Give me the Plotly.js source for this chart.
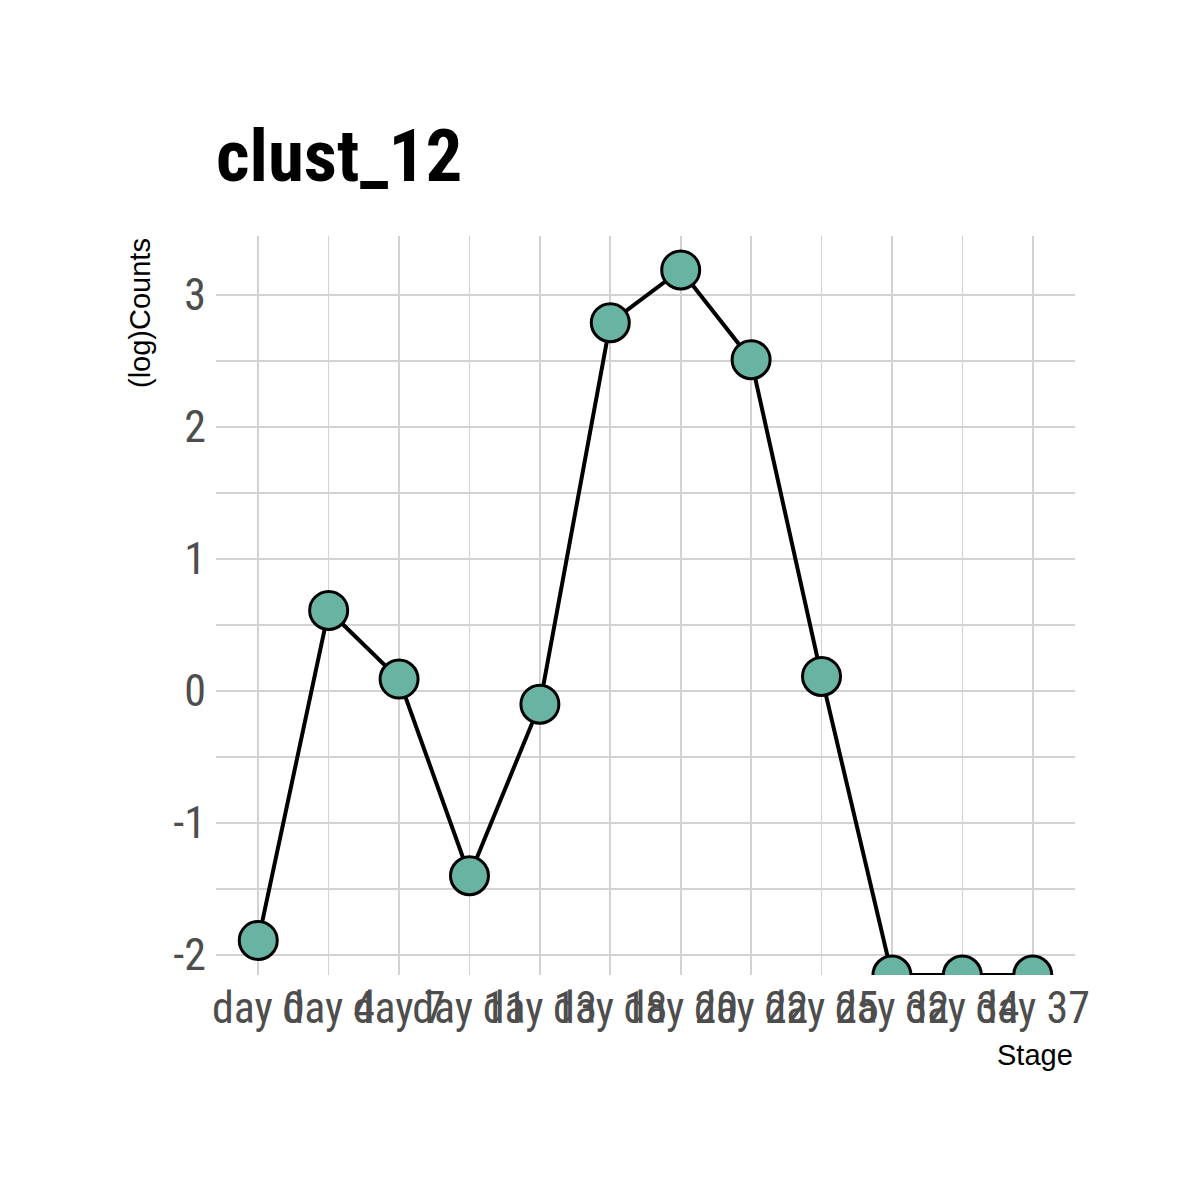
<!DOCTYPE html>
<html>
<head>
<meta charset="utf-8">
<script src="https://cdn.plot.ly/plotly-3.0.1.min.js"></script>
<style>html,body{margin:0;padding:0;background:#fff;}#chart{width:1200px;height:1200px;}</style>
</head>
<body>
<div id="chart"></div>
<script>
// Stage categories (x axis)
var stages = ["day 0","day 4","day 7","day 11","day 13","day 18","day 20","day 22","day 25","day 32","day 34","day 37"];
// (log)Counts; last three are -Inf in the source, drawn at the lower panel edge
var logCounts = [-1.89, 0.61, 0.09, -1.40, -0.10, 2.79, 3.19, 2.51, 0.11, -2.152, -2.152, -2.152];
var yTicks = [-2, -1, 0, 1, 2, 3];
var chartTitle = "clust_12";
var xTitle = "Stage";
var yTitle = "(log)Counts";

var narrow = "Liberation Sans Narrow, Arial Narrow, Roboto Condensed, Liberation Sans, Arial, sans-serif";
var regular = "Liberation Sans, Arial, sans-serif";
var grid = "#d2d2d2";

var trace = {
  x: stages,
  y: logCounts,
  type: "scatter",
  mode: "lines+markers",
  cliponaxis: true,
  line: {color: "#000000", width: 4},
  marker: {size: 38, color: "#69b3a2", line: {color: "#000000", width: 3}},
  hoverinfo: "x+y"
};

var layout = {
  width: 1200,
  height: 1200,
  paper_bgcolor: "#ffffff",
  plot_bgcolor: "#ffffff",
  showlegend: false,
  margin: {l: 216, r: 125, t: 236, b: 225, pad: 0},
  title: {
    text: "<b>" + chartTitle + "</b>",
    font: {family: narrow, size: 73, color: "#000000"},
    xref: "paper", x: 0, xanchor: "left",
    yref: "container", y: 1 - 155/1200, yanchor: "middle"
  },
  xaxis: {
    type: "category",
    range: [-0.6, 11.6],
    showgrid: true, gridcolor: grid, gridwidth: 1.6,
    zeroline: false, showline: false, ticks: "",
    tickangle: 0,
    ticklabelstandoff: 3,
    tickfont: {family: narrow, size: 44, color: "#4d4d4d"},
    fixedrange: true
  },
  yaxis: {
    range: [-2.152, 3.447],
    tickvals: yTicks,
    ticktext: yTicks.map(String),
    showgrid: true, gridcolor: grid, gridwidth: 1.6,
    minor: {dtick: 0.5, tick0: 0, showgrid: true, gridcolor: grid, gridwidth: 1.6},
    zeroline: false, showline: false, ticks: "",
    ticklabelstandoff: 9,
    tickfont: {family: narrow, size: 44, color: "#4d4d4d"},
    fixedrange: true
  },
  annotations: [
    {
      text: xTitle, xref: "paper", yref: "paper", x: 1, y: 0,
      xanchor: "right", yanchor: "top", yshift: -62, showarrow: false,
      font: {family: regular, size: 29, color: "#000000"}
    },
    {
      text: yTitle, xref: "paper", yref: "paper", x: 0, y: 1,
      xanchor: "center", yanchor: "top", xshift: -76, showarrow: false, textangle: -90,
      font: {family: regular, size: 29, color: "#000000"}
    }
  ]
};

Plotly.newPlot("chart", [trace], layout, {displayModeBar: false, staticPlot: true});
</script>
</body>
</html>
